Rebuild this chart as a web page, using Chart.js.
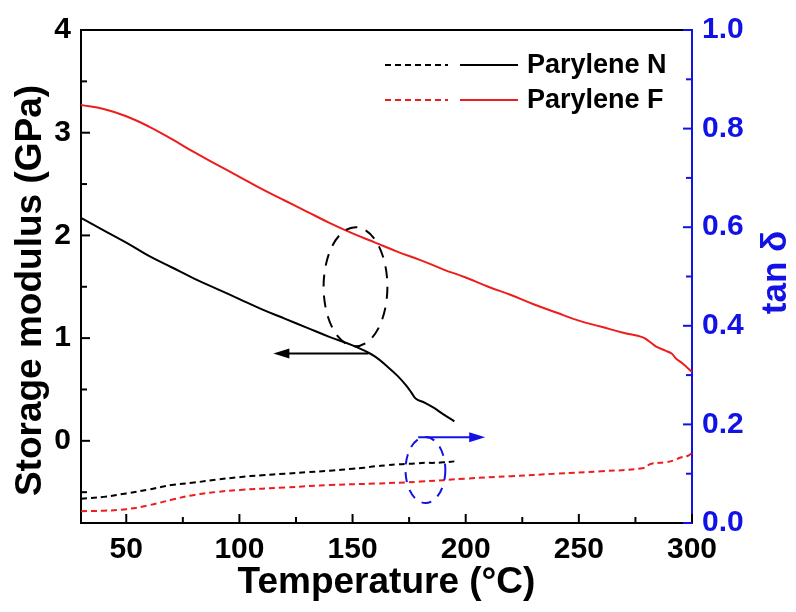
<!DOCTYPE html>
<html>
<head>
<meta charset="utf-8">
<script src="https://cdn.jsdelivr.net/npm/chart.js@4.4.1/dist/chart.umd.min.js"></script>
<style>
  html, body { margin: 0; padding: 0; background: #fff; }
</style>
</head>
<body>
<canvas id="dmaChart" width="796" height="612"></canvas>
<script>
// series names
const seriesNames = ['Parylene N', 'Parylene F'];

// Parylene N: storage modulus (GPa) and tan delta
const tempN = [30, 40, 50, 60, 70, 80, 90, 100, 110, 120, 130, 140, 150, 155, 160, 165, 170, 174, 176, 178, 182, 186, 190, 195];
const modulusN = [2.17, 2.05, 1.93, 1.80, 1.69, 1.58, 1.48, 1.38, 1.28, 1.19, 1.10, 1.01, 0.93, 0.88, 0.82, 0.73, 0.63, 0.53, 0.47, 0.41, 0.37, 0.32, 0.26, 0.19];
const tanN = [0.049, 0.053, 0.060, 0.068, 0.077, 0.082, 0.088, 0.093, 0.097, 0.100, 0.103, 0.106, 0.110, 0.112, 0.115, 0.117, 0.119, 0.120, 0.120, 0.121, 0.122, 0.122, 0.123, 0.125];

// Parylene F
const tempF = [30, 40, 50, 60, 70, 80, 90, 100, 110, 120, 130, 140, 150, 160, 170, 180, 190, 200, 210, 220, 230, 240, 250, 260, 270, 278, 281, 284, 288, 291, 293, 296, 300];
const modulusF = [3.27, 3.23, 3.16, 3.06, 2.94, 2.81, 2.69, 2.57, 2.45, 2.34, 2.23, 2.12, 2.02, 1.93, 1.84, 1.76, 1.67, 1.59, 1.50, 1.42, 1.33, 1.25, 1.17, 1.11, 1.05, 1.01, 0.97, 0.92, 0.88, 0.85, 0.80, 0.75, 0.67];
const tempTanF = [30, 40, 50, 60, 70, 80, 90, 100, 120, 140, 160, 180, 200, 220, 240, 260, 278, 282, 288, 292, 295, 298, 300];
const tanF = [0.024, 0.025, 0.028, 0.036, 0.047, 0.057, 0.063, 0.067, 0.072, 0.077, 0.080, 0.084, 0.090, 0.095, 0.100, 0.105, 0.111, 0.120, 0.123, 0.127, 0.133, 0.136, 0.142];

// tick positions
const xMajor = [50, 100, 150, 200, 250, 300];
const xMinor = [75, 125, 175, 225, 275];
const leftMajor = [0, 1, 2, 3, 4];
const leftMinor = [-0.5, 0.5, 1.5, 2.5, 3.5];
const rightMajor = [0, 0.2, 0.4, 0.6, 0.8, 1.0];
const rightMinor = [0.1, 0.3, 0.5, 0.7, 0.9];

const BLACK = '#000000';
const RED = '#ee1c1c';
const BLUE = '#1212e6';
const FONT = "'Liberation Sans', Arial, sans-serif";

const pts = (xs, ys) => xs.map((x, i) => ({ x: x, y: ys[i] }));

function line(label, data, color, axis, dashed) {
    return {
        label: label,
        data: data,
        yAxisID: axis,
        borderColor: color,
        borderWidth: 2,
        borderDash: dashed ? [6, 4] : [],
        pointRadius: 0,
        fill: false,
        tension: 0.4
    };
}

// inward ticks, top frame line, the two vertical axis titles
const frameTicks = {
    id: 'frameTicks',
    afterDraw(chart) {
        const { ctx, chartArea: a, scales } = chart;
        ctx.save();
        ctx.lineWidth = 2;
        ctx.strokeStyle = BLACK;
        const tick = (px, py, dx, dy) => {
            ctx.beginPath();
            ctx.moveTo(px, py);
            ctx.lineTo(px + dx, py + dy);
            ctx.stroke();
        };
        ctx.beginPath();
        ctx.moveTo(a.left, a.top);
        ctx.lineTo(a.right, a.top);
        ctx.stroke();
        xMajor.forEach(v => tick(scales.x.getPixelForValue(v), a.bottom, 0, -9));
        xMinor.forEach(v => tick(scales.x.getPixelForValue(v), a.bottom, 0, -6));
        leftMajor.forEach(v => tick(a.left, scales.y.getPixelForValue(v), 9, 0));
        leftMinor.forEach(v => tick(a.left, scales.y.getPixelForValue(v), 6, 0));
        ctx.strokeStyle = BLUE;
        rightMajor.forEach(v => tick(a.right, scales.y1.getPixelForValue(v), -9, 0));
        rightMinor.forEach(v => tick(a.right, scales.y1.getPixelForValue(v), -6, 0));

        const midY = (a.top + a.bottom) / 2;
        ctx.textAlign = 'center';
        ctx.textBaseline = 'middle';

        // left title
        ctx.save();
        ctx.fillStyle = BLACK;
        ctx.font = 'bold 37px ' + FONT;
        ctx.translate(scales.y.left + 31, midY + 14);
        ctx.rotate(-Math.PI / 2);
        ctx.fillText('Storage modulus (GPa)', 0, 0);
        ctx.restore();

        // right title
        ctx.fillStyle = BLUE;
        ctx.font = 'bold 35px ' + FONT;
        ctx.translate(scales.y1.right - 20, midY - 4);
        ctx.rotate(-Math.PI / 2);
        ctx.fillText('tan \u03b4', 0, 0);
        ctx.restore();
    }
};

// legend: dashed sample (tan delta) + solid sample (modulus) + name
const pairLegend = {
    id: 'pairLegend',
    afterDraw(chart) {
        const { ctx, chartArea: a } = chart;
        const colors = [BLACK, RED];
        ctx.save();
        ctx.lineWidth = 2;
        ctx.font = 'bold 27px ' + FONT;
        ctx.textBaseline = 'middle';
        seriesNames.forEach((name, i) => {
            const y = a.top + 35 + i * 35;
            ctx.strokeStyle = colors[i];
            ctx.setLineDash([6, 4]);
            ctx.beginPath(); ctx.moveTo(a.right - 307, y); ctx.lineTo(a.right - 244, y); ctx.stroke();
            ctx.setLineDash([]);
            ctx.beginPath(); ctx.moveTo(a.right - 232, y); ctx.lineTo(a.right - 174, y); ctx.stroke();
            ctx.fillStyle = BLACK;
            ctx.fillText(name, a.right - 165, y + 1);
        });
        ctx.restore();
    }
};

// ellipses and arrows pointing each curve group to its axis
const axisMarkers = {
    id: 'axisMarkers',
    afterDatasetsDraw(chart) {
        const { ctx, scales } = chart;
        const x = scales.x, y = scales.y, y1 = scales.y1;
        const ellipse = (ys, cx, cy, rx, ry, color, dash) => {
            const px = x.getPixelForValue(cx), py = ys.getPixelForValue(cy);
            const rpx = Math.abs(x.getPixelForValue(cx + rx) - px);
            const rpy = Math.abs(ys.getPixelForValue(cy + ry) - py);
            ctx.strokeStyle = color;
            ctx.setLineDash(dash);
            ctx.beginPath();
            ctx.ellipse(px, py, rpx, rpy, 0, 0, Math.PI * 2);
            ctx.stroke();
            ctx.setLineDash([]);
        };
        const arrow = (ys, x0, x1, yv, color) => {
            const p0 = x.getPixelForValue(x0), p1 = x.getPixelForValue(x1), py = ys.getPixelForValue(yv);
            const dir = Math.sign(p1 - p0);
            ctx.strokeStyle = color;
            ctx.fillStyle = color;
            ctx.beginPath(); ctx.moveTo(p0, py); ctx.lineTo(p1 - dir * 10, py); ctx.stroke();
            ctx.beginPath();
            ctx.moveTo(p1, py);
            ctx.lineTo(p1 - dir * 16, py - 5);
            ctx.lineTo(p1 - dir * 16, py + 5);
            ctx.closePath();
            ctx.fill();
        };
        ctx.save();
        ctx.lineWidth = 2;
        ellipse(y, 151.3, 1.50, 14.1, 0.58, BLACK, [12, 9]);
        arrow(y, 157, 115, 0.85, BLACK);
        ellipse(y1, 182.2, 0.1075, 8.8, 0.067, BLUE, [10, 8]);
        arrow(y1, 179, 208.6, 0.174, BLUE);
        ctx.restore();
    }
};

const ctx = document.getElementById('dmaChart').getContext('2d');
new Chart(ctx, {
    type: 'line',
    data: {
        datasets: [
            line(seriesNames[0] + ' tan', pts(tempN, tanN), BLACK, 'y1', true),
            line(seriesNames[1] + ' tan', pts(tempTanF, tanF), RED, 'y1', true),
            line(seriesNames[0], pts(tempN, modulusN), BLACK, 'y', false),
            line(seriesNames[1], pts(tempF, modulusF), RED, 'y', false)
        ]
    },
    options: {
        responsive: false,
        animation: false,
        layout: { padding: { top: 30, left: 0, right: 0, bottom: 0 } },
        plugins: {
            legend: { display: false },
            tooltip: { enabled: false }
        },
        scales: {
            x: {
                type: 'linear',
                min: 30,
                max: 300,
                afterBuildTicks: s => { s.ticks = xMajor.map(v => ({ value: v })); },
                afterFit: s => { s.height = 89; },
                grid: { display: false, drawTicks: false },
                border: { display: true, color: BLACK, width: 2 },
                ticks: { color: BLACK, padding: 9, maxRotation: 0, font: { family: FONT, size: 30, weight: 'bold' } },
                title: {
                    display: true,
                    text: 'Temperature (\u00b0C)',
                    color: BLACK,
                    padding: { top: 0, bottom: 7 },
                    font: { family: FONT, size: 37, weight: 'bold' }
                }
            },
            y: {
                position: 'left',
                min: -0.8,
                max: 4,
                afterBuildTicks: s => { s.ticks = leftMajor.map(v => ({ value: v })); },
                afterFit: s => { s.width = 81; },
                grid: { display: false, drawTicks: false },
                border: { display: true, color: BLACK, width: 2 },
                ticks: { color: BLACK, padding: 10, font: { family: FONT, size: 30, weight: 'bold' } }
            },
            y1: {
                position: 'right',
                min: 0,
                max: 1,
                afterBuildTicks: s => { s.ticks = rightMajor.map(v => ({ value: v })); },
                afterFit: s => { s.width = 104; },
                grid: { display: false, drawTicks: false },
                border: { display: true, color: BLUE, width: 2 },
                ticks: {
                    color: BLUE,
                    padding: 10,
                    font: { family: FONT, size: 30, weight: 'bold' },
                    callback: v => v.toFixed(1)
                }
            }
        }
    },
    plugins: [axisMarkers, frameTicks, pairLegend]
});
</script>
</body>
</html>
